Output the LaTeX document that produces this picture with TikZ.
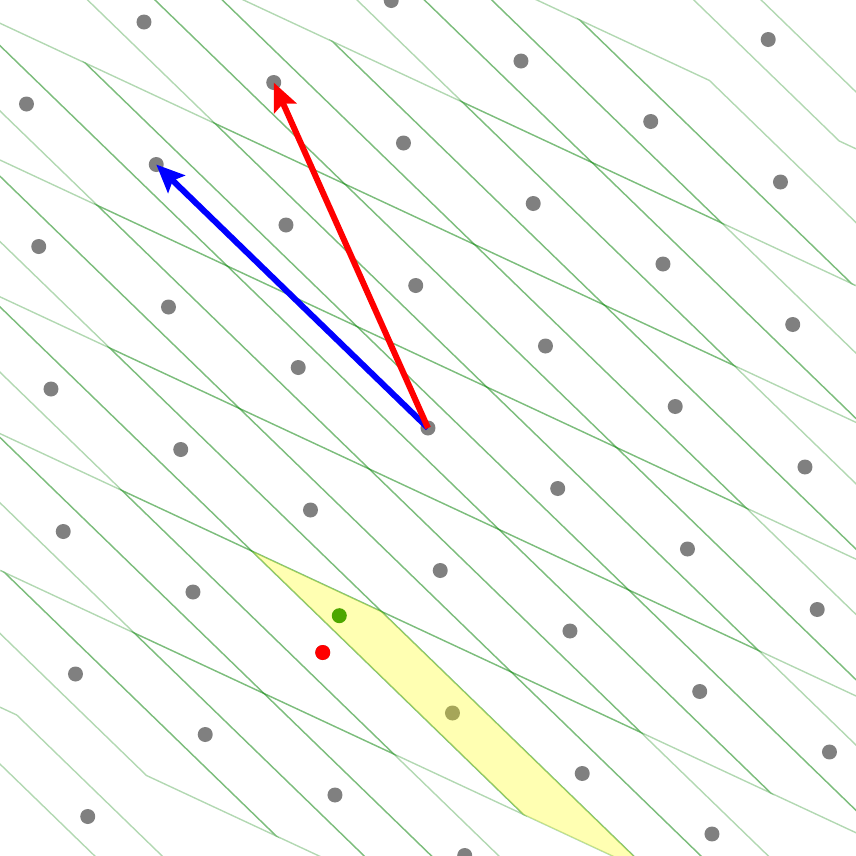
\documentclass[tikz,border=0pt]{standalone}
\usepackage{tikz}
\usetikzlibrary{arrows.meta,calc}
\definecolor{Grid}{HTML}{008000}
\definecolor{Dot}{HTML}{808080}
\definecolor{Hilite}{HTML}{FFFF00}
\definecolor{Target}{HTML}{008000}
\tikzset{
  >={Stealth[length=2.8mm,width=2.4mm,inset=.5mm]},
  lattpt/.style={circle,fill=Dot,inner sep=0pt,minimum size=1.5mm},
  redpt/.style={lattpt,fill=red},
  tgtpt/.style={lattpt,fill=Target},
  tile/.style={draw=Grid,draw opacity=.3,line width=.14mm},
  cell/.style={fill=Hilite,fill opacity=.3},
  basis/.style={->,line width=.6mm}
}

\begin{document}
\begin{tikzpicture}[x=1cm,y=1cm]
        \useasboundingbox (0,0) rectangle (8.56,8.56);
        \fill[white] (0,0) rectangle (8.56,8.56);
        \clip (0,0) rectangle (8.56,8.56);
        % one cell around every lattice point in the window
        \foreach \m in {-3,...,3}{
          \foreach \n in {-4,...,4}{
            \pgfmathsetmacro\px{4.28+1.2975*\m-0.1225*\n}
            \pgfmathsetmacro\py{4.28-0.605*\m+1.425*\n}
            \pgfmathtruncatemacro\inside{(\px>-0.1)&&(\px<8.66)&&(\py>-0.1)&&(\py<8.66)}
            \ifnum\inside=1
              \draw[tile] (\px,\py) ++(-2.0075,1.62) -- ++(1.2975,-0.605) -- ++(2.7175,-2.635) -- ++(-1.2975,0.605) -- cycle;
            \fi
          }
        }
        \foreach \m in {-3,...,3}{
          \foreach \n in {-4,...,4}{
            \pgfmathsetmacro\px{4.28+1.2975*\m-0.1225*\n}
            \pgfmathsetmacro\py{4.28-0.605*\m+1.425*\n}
            \pgfmathtruncatemacro\inside{(\px>-0.1)&&(\px<8.66)&&(\py>-0.1)&&(\py<8.66)}
            \ifnum\inside=1
              \node[lattpt] (p\m\n) at (\px,\py) {};
            \fi
          }
        }
        \node[redpt] (near) at (p-1-2) {};
        \node[tgtpt] (tgt) at (3.393,2.403) {};
        \fill[cell] (p0-2.center) ++(-2.0075,1.62) -- ++(1.2975,-0.605) -- ++(2.7175,-2.635) -- ++(-1.2975,0.605) -- cycle;
        \draw[basis,blue] (p00.center)--(p-21.center);
        \draw[basis,red] (p00.center)--(p-12.center);
      \end{tikzpicture}
\end{document}
